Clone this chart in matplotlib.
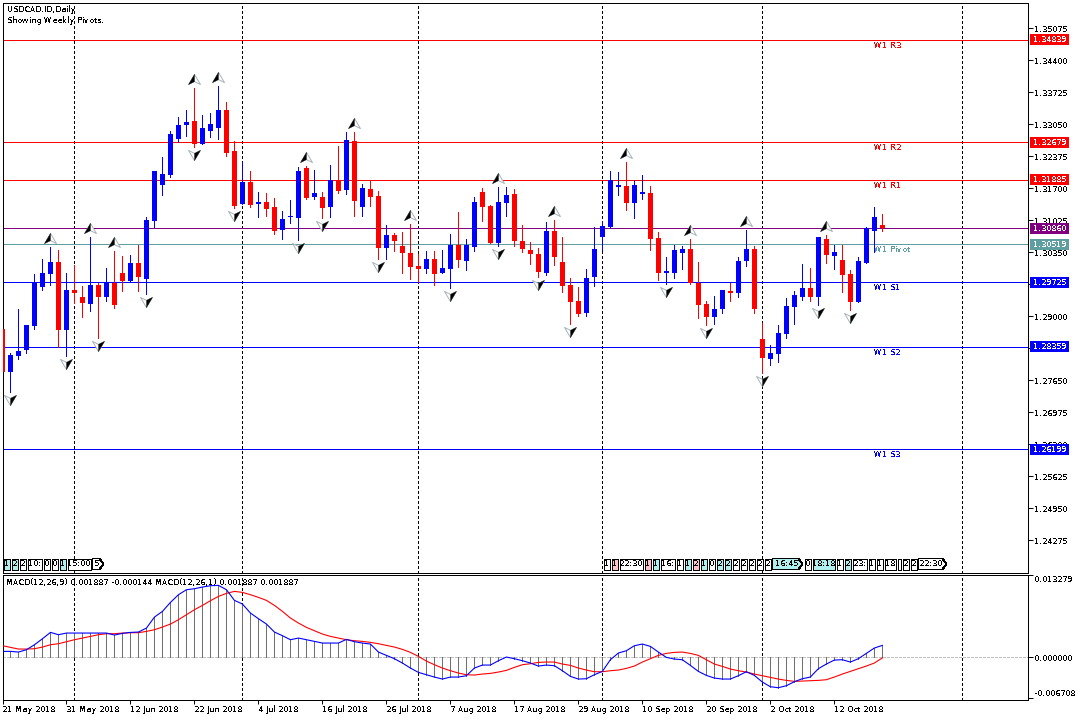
import matplotlib
matplotlib.use("Agg")
import matplotlib.pyplot as plt
import numpy as np
from matplotlib.patches import Rectangle, Polygon
from matplotlib.path import Path
from matplotlib.transforms import ScaledTranslation, blended_transform_factory

# candles, one row per 10 bars
opens = [1.28736, 1.27836, 1.28166, 1.28293, 1.28799, 1.29622, 1.29896, 1.30149, 1.28715, 1.29558,
         1.29411, 1.29263, 1.29664, 1.29411, 1.29706, 1.29917, 1.29748, 1.30128, 1.29790, 1.31014,
         1.31773, 1.31984, 1.32744, 1.33039, 1.33123, 1.32638, 1.32912, 1.32976, 1.33355, 1.32490,
         1.31372, 1.31837, 1.31372, 1.31415, 1.31309, 1.30824, 1.31098, 1.31077, 1.32132, 1.31520,
         1.31520, 1.31309, 1.31879, 1.31668, 1.32701, 1.31310, 1.31689, 1.31542, 1.30445, 1.30719,
         1.30487, 1.30339, 1.30065, 1.30002, 1.30213, 1.29918, 1.30002, 1.30508, 1.30171, 1.30466,
         1.31626, 1.31331, 1.30550, 1.31394, 1.31584, 1.30593, 1.30403, 1.30318, 1.29918, 1.30803,
         1.30150, 1.29664, 1.29327, 1.29074, 1.29833, 1.30677, 1.30888, 1.31732, 1.31753, 1.31394,
         1.31584, 1.31605, 1.30656, 1.29918, 1.29918, 1.30339, 1.30424, 1.29707, 1.29264, 1.28989,
         1.29158, 1.29538, 1.29495, 1.30170, 1.30423, 1.28525, 1.28103, 1.28209, 1.28630, 1.29200,
         1.29411, 1.29601, 1.29411, 1.30634, 1.30276, 1.30191, 1.29896, 1.29305, 1.30128, 1.30803,
         1.30930]
highs = [1.28736, 1.28222, 1.29151, 1.28820, 1.29896, 1.30212, 1.30465, 1.30402, 1.29917, 1.30086,
         1.29643, 1.30676, 1.29706, 1.30022, 1.30381, 1.30276, 1.30297, 1.30508, 1.31098, 1.32069,
         1.32364, 1.32912, 1.33208, 1.33355, 1.33819, 1.33250, 1.33292, 1.33862, 1.33524, 1.32701,
         1.32258, 1.32069, 1.31626, 1.31605, 1.31499, 1.31225, 1.31457, 1.32153, 1.32174, 1.32090,
         1.31626, 1.32195, 1.32596, 1.32891, 1.32891, 1.31795, 1.31879, 1.31647, 1.30930, 1.30761,
         1.30782, 1.30951, 1.30318, 1.30382, 1.30382, 1.30403, 1.30740, 1.31204, 1.30635, 1.31521,
         1.31710, 1.31352, 1.31732, 1.31732, 1.31689, 1.30930, 1.30571, 1.30445, 1.30993, 1.31035,
         1.30677, 1.29812, 1.29622, 1.30002, 1.30888, 1.31014, 1.32069, 1.32048, 1.32259, 1.31879,
         1.31985, 1.31753, 1.30782, 1.30255, 1.30508, 1.30487, 1.30635, 1.30150, 1.29327, 1.29432,
         1.29559, 1.29706, 1.30255, 1.30824, 1.30487, 1.28863, 1.28398, 1.28820, 1.29390, 1.29538,
         1.30107, 1.30023, 1.30677, 1.30719, 1.30508, 1.30508, 1.29980, 1.30255, 1.30888, 1.31309,
         1.31162]
lows = [1.27836, 1.27414, 1.28103, 1.28237, 1.28743, 1.29558, 1.29664, 1.28349, 1.28166, 1.29277,
        1.28989, 1.29115, 1.28546, 1.29326, 1.29179, 1.29537, 1.29748, 1.29537, 1.29474, 1.30887,
        1.31562, 1.31942, 1.32680, 1.32807, 1.32575, 1.32638, 1.32786, 1.32744, 1.32385, 1.31288,
        1.31372, 1.31309, 1.31098, 1.31119, 1.30740, 1.30634, 1.30972, 1.30613, 1.31478, 1.31478,
        1.31077, 1.31098, 1.31605, 1.31583, 1.31119, 1.31120, 1.31331, 1.30213, 1.30213, 1.30382,
        1.29918, 1.29791, 1.29721, 1.29918, 1.29664, 1.29918, 1.29601, 1.30044, 1.29981, 1.30382,
        1.31014, 1.30550, 1.30487, 1.31120, 1.30487, 1.30360, 1.30107, 1.29833, 1.29875, 1.30086,
        1.29517, 1.28842, 1.29010, 1.29010, 1.29643, 1.30403, 1.30867, 1.31563, 1.31246, 1.31078,
        1.31478, 1.30403, 1.29770, 1.29685, 1.29812, 1.30002, 1.29685, 1.28968, 1.28821, 1.28841,
        1.29073, 1.29327, 1.29411, 1.30065, 1.29073, 1.27808, 1.27977, 1.28040, 1.28546, 1.28841,
        1.29348, 1.29327, 1.29242, 1.30128, 1.30002, 1.29516, 1.29137, 1.29305, 1.30128, 1.30360,
        1.30803]
closes = [1.27836, 1.28187, 1.28272, 1.28820, 1.29727, 1.29917, 1.30149, 1.28715, 1.29558, 1.29495,
          1.29284, 1.29664, 1.29411, 1.29706, 1.29242, 1.29748, 1.30128, 1.29833, 1.31035, 1.32069,
          1.32005, 1.32849, 1.33039, 1.33102, 1.32638, 1.32976, 1.33060, 1.33355, 1.32448, 1.31330,
          1.31837, 1.31351, 1.31415, 1.31267, 1.30803, 1.31056, 1.31126, 1.32069, 1.31499, 1.31605,
          1.31288, 1.31879, 1.31647, 1.32722, 1.31436, 1.31710, 1.31521, 1.30445, 1.30719, 1.30593,
          1.30339, 1.30044, 1.30002, 1.30213, 1.29896, 1.30023, 1.30508, 1.30192, 1.30508, 1.31415,
          1.31310, 1.30550, 1.31415, 1.31563, 1.30593, 1.30424, 1.30318, 1.29939, 1.30803, 1.30255,
          1.29643, 1.29306, 1.29053, 1.29812, 1.30424, 1.30909, 1.31879, 1.31774, 1.31394, 1.31774,
          1.31626, 1.30635, 1.29918, 1.29960, 1.30403, 1.30424, 1.29707, 1.29242, 1.28989, 1.29158,
          1.29559, 1.29495, 1.30170, 1.30423, 1.29158, 1.28124, 1.28230, 1.28652, 1.29221, 1.29453,
          1.29601, 1.29411, 1.30677, 1.30297, 1.30360, 1.29875, 1.29305, 1.30170, 1.30866, 1.31098,
          1.30860]

# bars that carry a fractal arrow
fractal_up = [6, 11, 14, 24, 27, 38, 44, 51, 62, 69, 78, 86, 93, 103]
fractal_down = [1, 8, 12, 18, 24, 29, 37, 40, 47, 56, 62, 67, 71, 83, 88, 95, 102, 106]

# MACD panel
macd_main = [0.000917, 0.000917, 0.000809, 0.001187, 0.001996, 0.002967, 0.003992, 0.003615, 0.003884, 0.003884,
             0.003884, 0.003884, 0.003884, 0.003884, 0.003561, 0.003830, 0.003992, 0.004046, 0.004694, 0.006474,
             0.007391, 0.008848, 0.010089, 0.010898, 0.011060, 0.011330, 0.011545, 0.011599, 0.010898, 0.009172,
             0.008578, 0.007121, 0.006204, 0.005341, 0.004046, 0.003453, 0.002805, 0.003075, 0.002805, 0.002536,
             0.002266, 0.002266, 0.002266, 0.002859, 0.002482, 0.002266, 0.002104, 0.000809, 0.000270, -0.000270,
             -0.000971, -0.001780, -0.002482, -0.002859, -0.003237, -0.003561, -0.003237, -0.003237, -0.003021, -0.001780,
             -0.001295, -0.001295, -0.000593, 0.000000, -0.000270, -0.000593, -0.000971, -0.001457, -0.001295, -0.001403,
             -0.002212, -0.003129, -0.003561, -0.003507, -0.002859, -0.002320, -0.000432, 0.000647, 0.001025, 0.001834,
             0.002104, 0.001726, 0.000809, -0.000054, -0.000324, -0.000432, -0.001349, -0.002320, -0.002967, -0.003399,
             -0.003561, -0.003561, -0.003021, -0.002374, -0.002967, -0.004046, -0.004802, -0.004963, -0.004640, -0.003992,
             -0.003507, -0.003237, -0.001888, -0.001133, -0.000486, -0.000432, -0.000809, -0.000270, 0.000593, 0.001457,
             0.001887]
macd_signal = [0.001834, 0.001565, 0.001295, 0.001295, 0.001349, 0.001619, 0.001996, 0.002158, 0.002482, 0.002805,
               0.003075, 0.003345, 0.003615, 0.003777, 0.003777, 0.003884, 0.003938, 0.003938, 0.004154, 0.004424,
               0.004856, 0.005341, 0.006042, 0.006852, 0.007661, 0.008362, 0.009118, 0.009819, 0.010304, 0.010628,
               0.010466, 0.010089, 0.009657, 0.009172, 0.008362, 0.007391, 0.006312, 0.005503, 0.004802, 0.004262,
               0.003723, 0.003345, 0.003075, 0.002805, 0.002644, 0.002536, 0.002374, 0.002158, 0.001888, 0.001619,
               0.001241, 0.000755, 0.000108, -0.000647, -0.001241, -0.001780, -0.002212, -0.002590, -0.002859, -0.002913,
               -0.002751, -0.002644, -0.002428, -0.002158, -0.001672, -0.001241, -0.001079, -0.000863, -0.000809, -0.000809,
               -0.001133, -0.001349, -0.001780, -0.002104, -0.002374, -0.002374, -0.002212, -0.002104, -0.001834, -0.001457,
               -0.000809, -0.000270, 0.000270, 0.000593, 0.000755, 0.000809, 0.000593, 0.000270, -0.000432, -0.001133,
               -0.001511, -0.001942, -0.002212, -0.002428, -0.002751, -0.003021, -0.003291, -0.003561, -0.003777, -0.003938,
               -0.003884, -0.003830, -0.003777, -0.003669, -0.003237, -0.002751, -0.002320, -0.001888, -0.001457, -0.000971,
               -0.000144]

# price levels
level_prices = [1.34839, 1.32679, 1.31885, 1.30860, 1.30519, 1.29725, 1.28359, 1.26199]
level_names = ['W1 R3', 'W1 R2', 'W1 R1', '', 'W1 Pivot', 'W1 S1', 'W1 S2', 'W1 S3']
level_colors = ['#ff0000', '#ff0000', '#ff0000', '#800080', '#5f9ea0', '#0000ff', '#0000ff', '#0000ff']

price_ticks = [1.35075, 1.34400, 1.33725, 1.33050, 1.32375, 1.31700, 1.31025, 1.30350, 1.29675,
               1.29000, 1.28325, 1.27650, 1.26975, 1.26300, 1.25625, 1.24950, 1.24275]
# these two sit fully behind a price tag in the reference
hidden_ticks = [1.29675, 1.28325]
macd_ticks = [0.013279, 0.0, -0.006708]
date_ticks = [0, 8, 16, 24, 32, 40, 48, 56, 64, 72, 80, 88, 96, 104]
date_labels = ['21 May 2018', '31 May 2018', '12 Jun 2018', '22 Jun 2018', '4 Jul 2018', '16 Jul 2018',
               '26 Jul 2018', '7 Aug 2018', '17 Aug 2018', '29 Aug 2018', '10 Sep 2018', '20 Sep 2018',
               '2 Oct 2018', '12 Oct 2018']
separators = [9, 30, 52, 75, 95, 120]

# news chips above the MACD panel: text, width in px, fill, arrow tip
TEAL = '#afeeee'
PINK = '#ffc0cb'
WHITE = '#ffffff'
chips_left = [('1', 6, TEAL, 0), ('2', 6, TEAL, 0), ('2', 6, WHITE, 0), ('10:', 14, WHITE, 0), ('0', 6, WHITE, 0),
              ('0', 6, WHITE, 0), ('1', 6, TEAL, 0), ('15:00', 23, WHITE, 0), ('5', 11, WHITE, 1)]
chips_right = [('1', 6, WHITE, 0), ('1', 6, PINK, 0), ('22:30', 23, WHITE, 0), ('1', 6, PINK, 0), ('1', 6, TEAL, 0),
               ('16:', 14, WHITE, 0), ('1', 6, WHITE, 0), ('1', 6, TEAL, 0), ('2', 6, PINK, 0), ('1', 6, TEAL, 0),
               ('0', 6, WHITE, 0), ('2', 6, TEAL, 0), ('2', 6, TEAL, 0), ('2', 6, WHITE, 0), ('2', 6, WHITE, 0),
               ('2', 6, WHITE, 0), ('2', 6, WHITE, 0), ('2', 6, WHITE, 0), ('16:45', 30, TEAL, 1), ('0', 6, WHITE, 0),
               ('18:18', 22, TEAL, 0), ('1', 6, WHITE, 0), ('2', 6, TEAL, 0), ('23:', 14, WHITE, 0), ('1', 6, WHITE, 0),
               ('1', 6, WHITE, 0), ('18', 11, WHITE, 0), ('!', 3, WHITE, 0), ('2', 6, WHITE, 0), ('2', 6, WHITE, 0),
               ('22:30', 28, WHITE, 1)]

LW = 0.7  # one pixel at dpi 100

# MT4 renders everything without smoothing
plt.rcParams.update({
    'font.family': 'DejaVu Sans',
    'font.size': 6,
    'text.antialiased': False,
    'text.hinting': 'native',
    'text.hinting_factor': 1,
    'lines.antialiased': False,
    'patch.antialiased': False,
    'axes.linewidth': LW,
    'xtick.major.width': LW,
    'ytick.major.width': LW,
    'xtick.major.size': 3,
    'ytick.major.size': 3.6,
    'xtick.major.pad': 1,
    'ytick.major.pad': 1,
})

W, H = 1080, 720
fig = plt.figure(figsize=(W / 100, H / 100), dpi=100)


def panel(top, bottom):
    return fig.add_axes([2.5 / W, 1 - bottom / H, 1025 / W, (bottom - top) / H])


ax = panel(2.5, 572.5)
ax2 = panel(574.5, 699.5)
bars = np.arange(len(closes))
for a in (ax, ax2):
    a.set_xlim(0.025, 128.15)
    for s in separators:
        a.axvline(s, color='black', lw=LW, dashes=(3, 3), zorder=1)
    a.yaxis.tick_right()

ax.set_ylim(1.23600, 1.35623)
ax2.set_ylim(-0.00687, 0.01336)

# pivot levels
for price, name, color in zip(level_prices, level_names, level_colors):
    ax.axhline(price, color=color, lw=LW, zorder=2)
    if name:
        ax.annotate(name, (109, price), xytext=(0, -5.5), textcoords='offset pixels',
                    color=color, va='center', ha='left')

# candles
opens_a, closes_a = np.array(opens), np.array(closes)
colors = np.where(closes_a >= opens_a, '#0000ff', '#ff0000')
ax.vlines(bars, lows, highs, colors=colors, lw=LW, zorder=3)
ax.bar(bars, np.abs(closes_a - opens_a), bottom=np.minimum(opens_a, closes_a), width=0.6,
       color=colors, linewidth=0, zorder=3)

# fractal arrows
arrow_up = Path([(0, 0.85), (-1, -0.85), (0, -0.35), (1, -0.85), (0, 0.85)])
half_up = Path([(0, 0.85), (-1, -0.85), (0, -0.35), (0, 0.85)])
arrow_down = Path([(0, -0.85), (-1, 0.85), (0, 0.35), (1, 0.85), (0, -0.85)])
half_down = Path([(0, -0.85), (1, 0.85), (0, 0.35), (0, -0.85)])
shift_up = ax.transData + ScaledTranslation(0, 9 / 100, fig.dpi_scale_trans)
shift_down = ax.transData + ScaledTranslation(0, -8 / 100, fig.dpi_scale_trans)
up_y = [highs[i] for i in fractal_up]
down_y = [lows[i] for i in fractal_down]
for xs, ys, outline, half, tr in ((fractal_up, up_y, arrow_up, half_up, shift_up),
                                  (fractal_down, down_y, arrow_down, half_down, shift_down)):
    ax.plot(xs, ys, ls='none', marker=outline, ms=8.6, mfc='white', mec='#a8b4b8', mew=LW,
            transform=tr, zorder=4, antialiased=True)
    ax.plot(xs, ys, ls='none', marker=half, ms=8.6, mfc='black', mec='black', mew=0.2,
            transform=tr, zorder=5, antialiased=True)

# price axis
ax.set_yticks(price_ticks)
ax.set_yticklabels(['' if p in hidden_ticks else '%.5f' % p for p in price_ticks])
ax.set_xticks([])

# coloured price tags sit on top of the tick labels
tag_tr = blended_transform_factory(fig.transFigure, ax.transData)
tag_h = 11 * (1.35623 - 1.23600) / 570
for price, color in zip(level_prices, level_colors):
    ax.add_patch(Rectangle((1030 / W, price - tag_h / 2), 39 / W, tag_h, transform=tag_tr,
                           facecolor=color, edgecolor='none', clip_on=False, zorder=6))
    ax.text(1033 / W, price, '%.5f' % price, transform=tag_tr, color='white', va='center',
            ha='left', clip_on=False, zorder=7)

# MACD, smoothed lines stay one pixel thin
ax2.axhline(0, color='#c0c0c0', lw=LW, dashes=(3, 2), zorder=1)
ax2.vlines(bars, 0, macd_main, colors='#707070', lw=LW, zorder=2)
ax2.plot(bars, macd_signal, color='#ff0000', lw=0.8, zorder=3, antialiased=True)
ax2.plot(bars, macd_main, color='#0000ff', lw=0.8, zorder=4, antialiased=True)
ax2.set_yticks(macd_ticks)
ax2.set_yticklabels(['%.6f' % v for v in macd_ticks])
macd_tick_labels = ax2.get_yticklabels()
macd_tick_labels[0].set_va('top')
macd_tick_labels[2].set_va('bottom')
ax2.set_xticks(date_ticks)
ax2.set_xticklabels(date_labels, ha='left')

fig.text(7 / W, 1 - 10 / H, 'USDCAD.ID,Daily', va='center', ha='left')
fig.text(7 / W, 1 - 20.5 / H, 'Showing Weekly Pivots.', va='center', ha='left')
fig.text(6 / W, 1 - 583 / H, 'MACD(12,26,9) 0.001887 -0.000144 MACD(12,26,1) 0.001887 0.001887',
         va='center', ha='left')

# pixel overlay for the chip rows
over = fig.add_axes([0, 0, 1, 1], zorder=10)
over.set_xlim(0, W)
over.set_ylim(H, 0)
over.axis('off')
over.patch.set_alpha(0)


def draw_chips(start, chips):
    x = start + 0.5
    top, bottom, mid = 558.5, 569.5, 564
    for text, width, fill, tip in chips:
        if tip:
            pts = [(x, top), (x + width - 4, top), (x + width, mid), (x + width - 4, bottom), (x, bottom)]
        else:
            pts = [(x, top), (x + width, top), (x + width, bottom), (x, bottom)]
        over.add_patch(Polygon(pts, closed=True, facecolor=fill, edgecolor='black', lw=LW))
        over.text(x + (width - 3 * tip) / 2, mid, text, ha='center', va='center')
        x += width + 2


draw_chips(3, chips_left)
draw_chips(603, chips_right)

fig.savefig('out.png', dpi=100)
